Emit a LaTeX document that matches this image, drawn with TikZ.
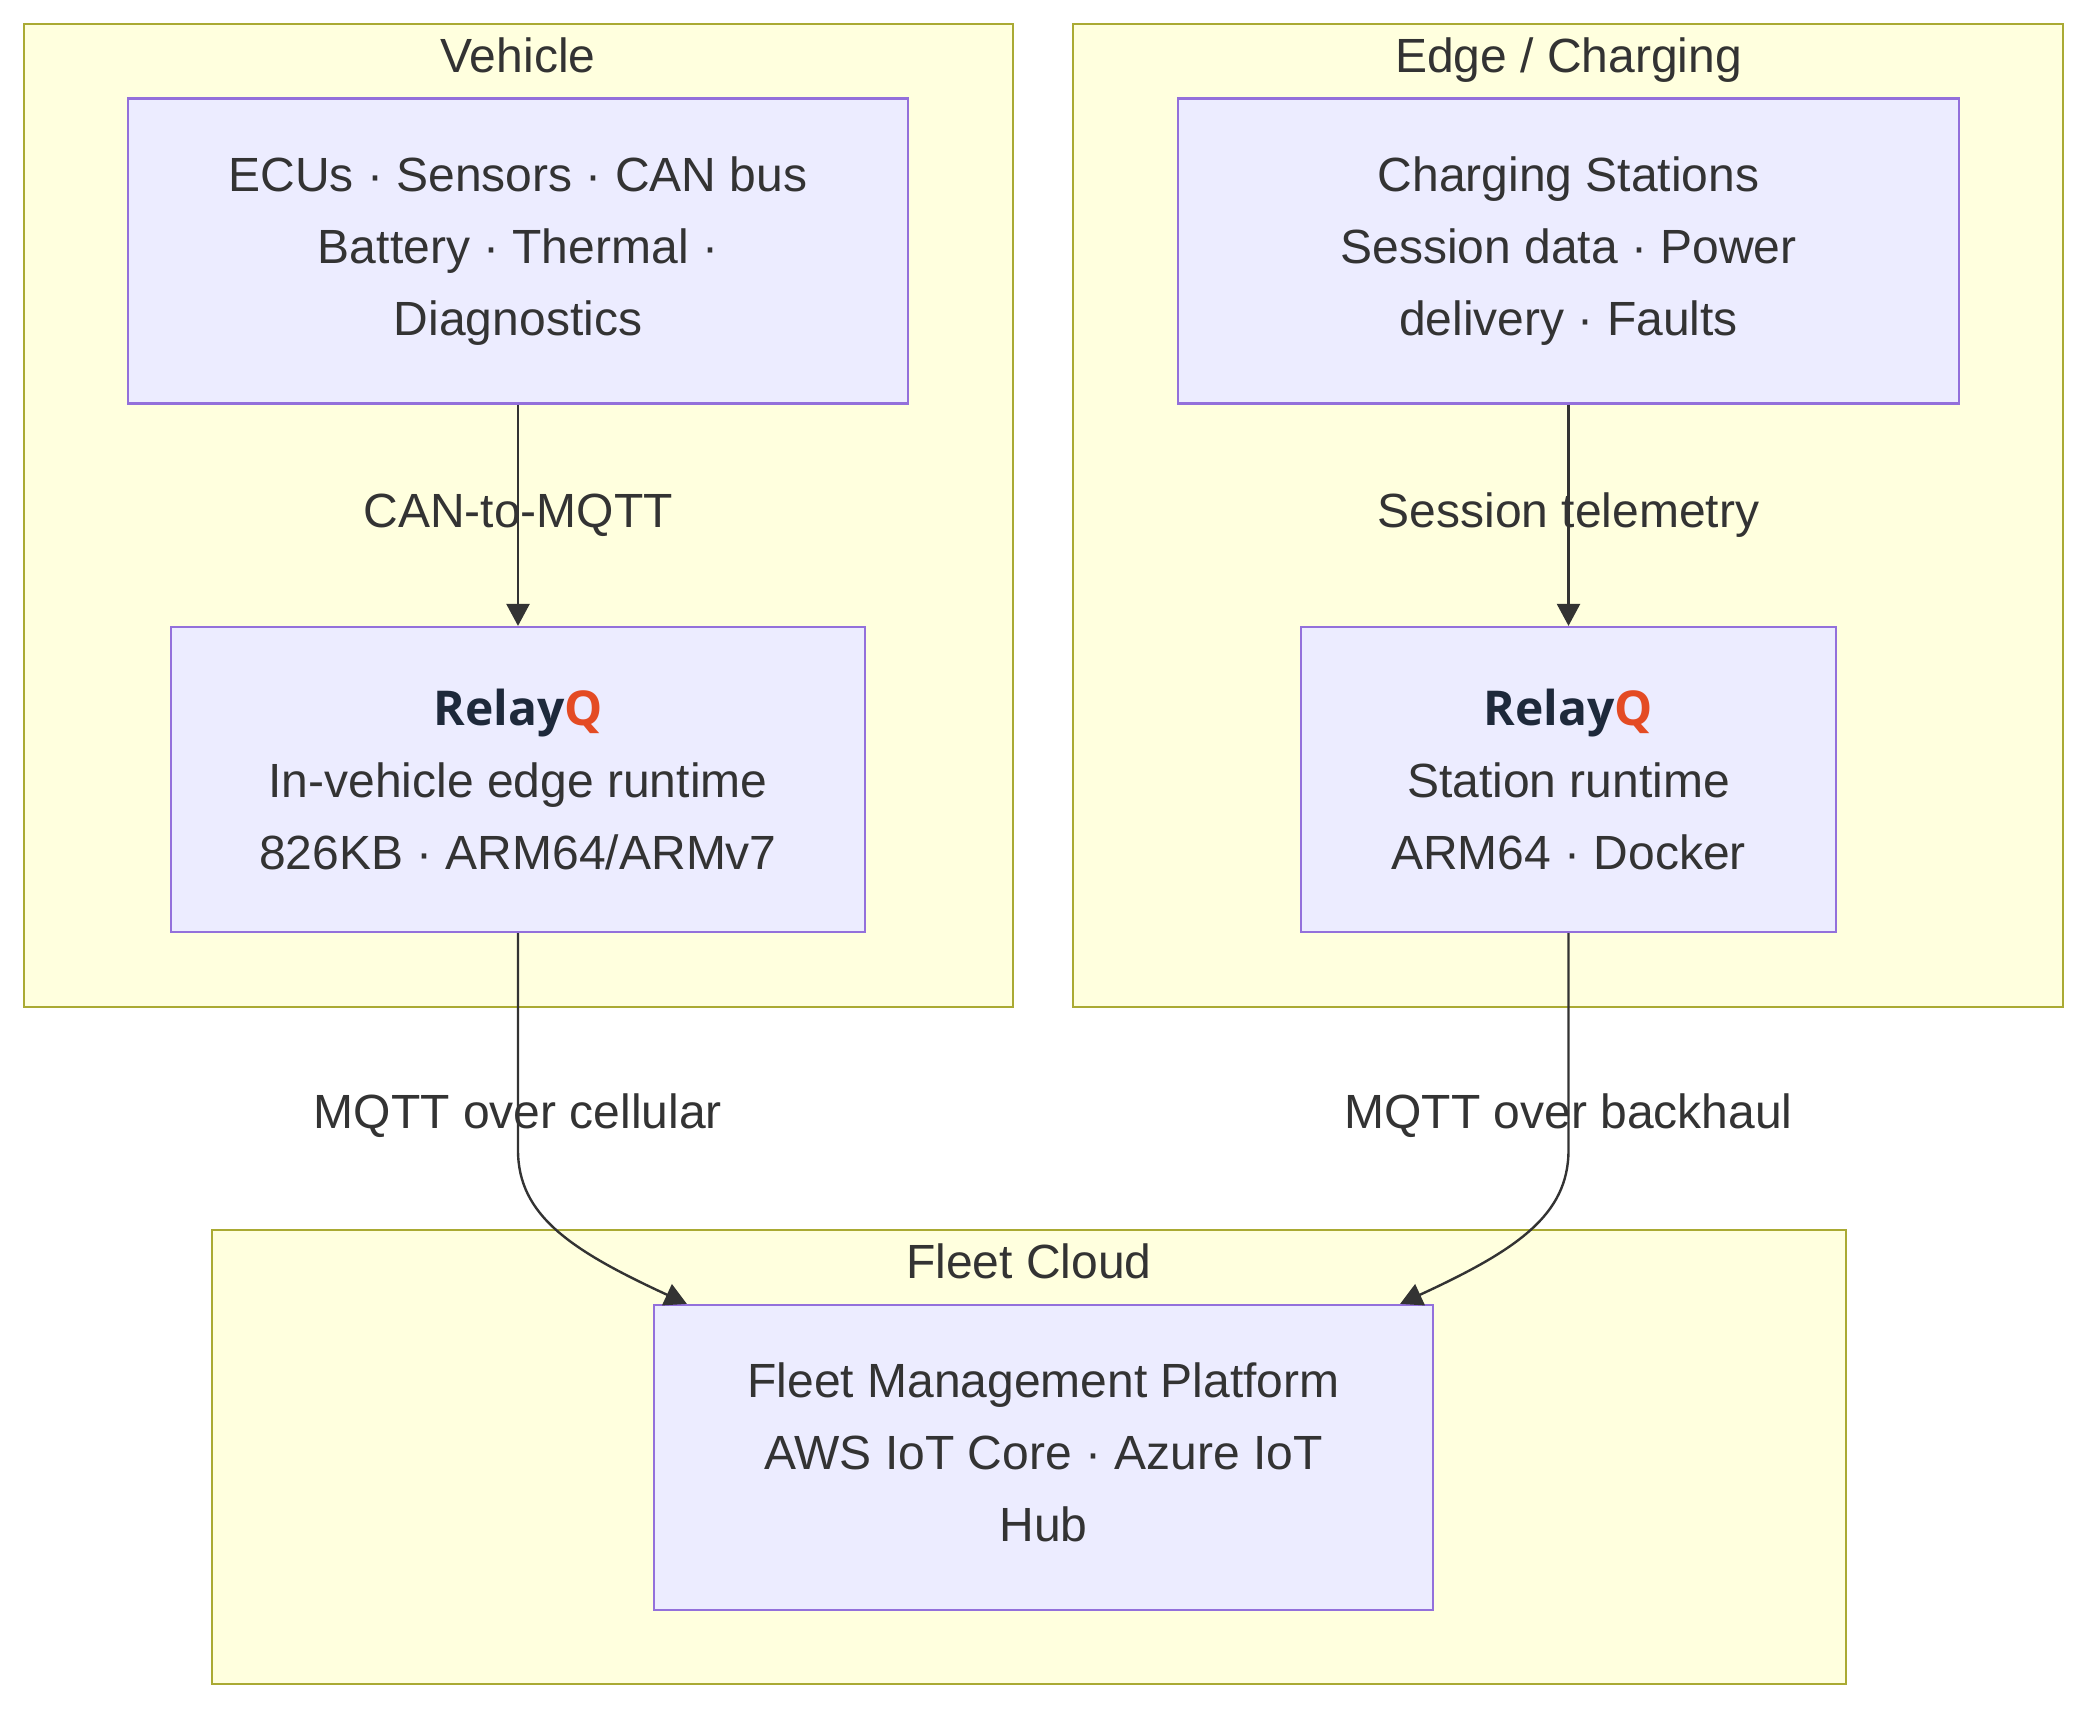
\documentclass[tikz,border=0pt]{standalone}
\usepackage{fontspec}
\setmainfont{Liberation Sans}
\newfontfamily\relayfont{Open Sans}
\usetikzlibrary{arrows.meta}

\definecolor{fleetMapCluster}{RGB}{255,255,222}
\definecolor{fleetMapClusterBorder}{RGB}{170,170,51}
\definecolor{fleetMapNode}{RGB}{236,236,255}
\definecolor{fleetMapNodeBorder}{RGB}{147,112,219}
\definecolor{fleetMapText}{RGB}{51,51,51}
\definecolor{fleetMapBrand}{RGB}{30,41,59}
\definecolor{fleetMapAccent}{RGB}{228,75,35}

\begin{document}
\begin{tikzpicture}[x=1pt,y=-1pt,
      cluster/.style={draw=fleetMapClusterBorder, fill=fleetMapCluster,
        line width=2.2pt},
      title/.style={font=\fontsize{48}{72}\selectfont,
        text=fleetMapText, inner sep=0pt, anchor=base},
      box/.style={draw=fleetMapNodeBorder, fill=fleetMapNode,
        line width=2.2pt, font=\fontsize{48}{72}\selectfont,
        text=fleetMapText, align=center, inner sep=0pt,
        minimum height=305pt},
      flow/.style={draw=fleetMapText, line width=2.4pt,
        -{Triangle[length=22pt,width=23pt]}},
      edgetext/.style={font=\fontsize{48}{72}\selectfont,
        text=fleetMapText, inner sep=0pt}]
      \useasboundingbox (0,0) rectangle (2088,1710);
      \fill[white] (0,0) rectangle (2088,1710);

      % groups
      \path[cluster] (24,24) rectangle (1013,1007);
      \node[title] (vehicleTitle) at (518,73) {Vehicle};
      \path[cluster] (1073,24) rectangle (2063,1007);
      \node[title] (edgeTitle) at (1568.5,73) {Edge / Charging};
      \path[cluster] (212,1230) rectangle (1846,1684);
      \node[title] (cloudTitle) at (1029,1278) {Fleet Cloud};

      % nodes
      \node[box, minimum width=780pt] (ecu) at (518,251)
        {ECUs · Sensors · CAN bus\\Battery · Thermal ·\\Diagnostics};
      \node[box, minimum width=694pt] (rqcar) at (518,779.5)
        {{\relayfont\bfseries\color{fleetMapBrand}Relay\color{fleetMapAccent}Q}\\
         In-vehicle edge runtime\\826KB · ARM64/ARMv7};
      \node[box, minimum width=781pt] (charge) at (1568.5,251)
        {Charging Stations\\Session data · Power\\delivery · Faults};
      \node[box, minimum width=535pt] (rqsta) at (1568.5,779.5)
        {{\relayfont\bfseries\color{fleetMapBrand}Relay\color{fleetMapAccent}Q}\\
         Station runtime\\ARM64 · Docker};
      \node[box, minimum width=779pt] (fleet) at (1043.5,1457.5)
        {Fleet Management Platform\\AWS IoT Core · Azure IoT\\Hub\vphantom{g}};

      \coordinate (cellBend) at (518,1150);
      \coordinate (backBend) at (1568.5,1150);

      % links
      \draw[flow] (ecu) -- node[edgetext] {CAN-to-MQTT} (rqcar);
      \draw[flow] (charge) -- node[edgetext] {Session telemetry} (rqsta);
      \draw[flow] (rqcar.south) -- node[edgetext, pos=.84] {MQTT over cellular}
        (cellBend) .. controls +(0,65) and (570,1250) .. ([xshift=34pt]fleet.north west);
      \draw[flow] (rqsta.south) -- node[edgetext, pos=.84] {MQTT over backhaul}
        (backBend) .. controls +(0,65) and (1517,1250) .. ([xshift=-34pt]fleet.north east);
    \end{tikzpicture}
\end{document}
